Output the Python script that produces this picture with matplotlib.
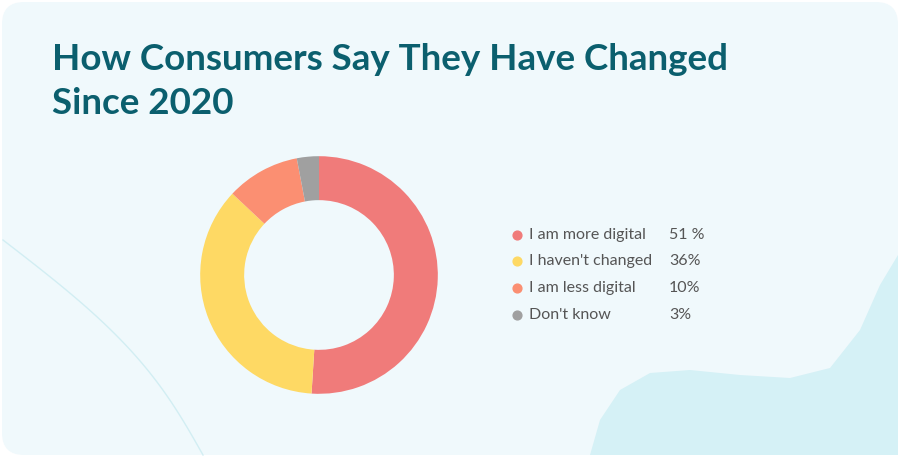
import matplotlib
matplotlib.use("Agg")
import matplotlib.pyplot as plt
from matplotlib.patches import FancyBboxPatch, Polygon
import numpy as np

categories = ["I am more digital", "I haven't changed", "I am less digital", "Don't know"]
values = [51, 36, 10, 3]
value_labels = ["51 %", "36%", "10%", "3%"]
colors = ["#f07b7a", "#fed964", "#fb8f72", "#a0a0a0"]

fig = plt.figure(figsize=(9, 4.57), dpi=100)
fig.patch.set_facecolor("white")
bg = fig.add_axes([0, 0, 1, 1])
bg.set_xlim(0, 900); bg.set_ylim(457, 0); bg.axis("off")
bg.add_patch(FancyBboxPatch((2, 2), 896, 453, boxstyle="round,pad=0,rounding_size=22",
                            fc="#f0f9fc", ec="none"))
# decorative blob bottom right
blob = [(590, 455), (600, 420), (620, 390), (650, 373), (690, 370), (740, 375),
        (790, 378), (830, 368), (860, 330), (880, 285), (898, 255), (898, 455)]
bg.add_patch(Polygon(blob, closed=True, fc="#d5f1f6", ec="none"))
# thin curve left
t = np.linspace(0, 1, 60)
cx = 3 + 25*np.sin(t*np.pi) + t*200
cy = 240 + t*215
bg.plot(cx, cy, color="#d2eef3", lw=1)

fig.text(52/900, 1-60/457, "How Consumers Say They Have Changed", fontsize=26.5, fontweight="bold",
         color="#0b5f6e", family="Lato", va="center")
fig.text(52/900, 1-103/457, "Since 2020", fontsize=26.5, fontweight="bold",
         color="#0b5f6e", family="Lato", va="center")

ax = fig.add_axes([(319-120)/900, 1-(275+120)/457, 240/900, 240/457])
ax.pie(values, colors=colors, startangle=90, counterclock=False,
       wedgeprops=dict(width=0.37, edgecolor="none"))
ax.set_xlim(-1.01, 1.01); ax.set_ylim(-1.01, 1.01)
ax.set_aspect("equal")

ys = [235, 261, 288, 315]
for c, lab, v, y in zip(colors, categories, value_labels, ys):
    bg.scatter([517], [y], s=40, color=c, zorder=3)
    bg.text(529, y, lab, fontsize=11.5, color="#555555", family="Lato", va="center")
    bg.text(669, y, v, fontsize=11.5, color="#555555", family="Lato", va="center")

fig.savefig("out.png", dpi=100)
